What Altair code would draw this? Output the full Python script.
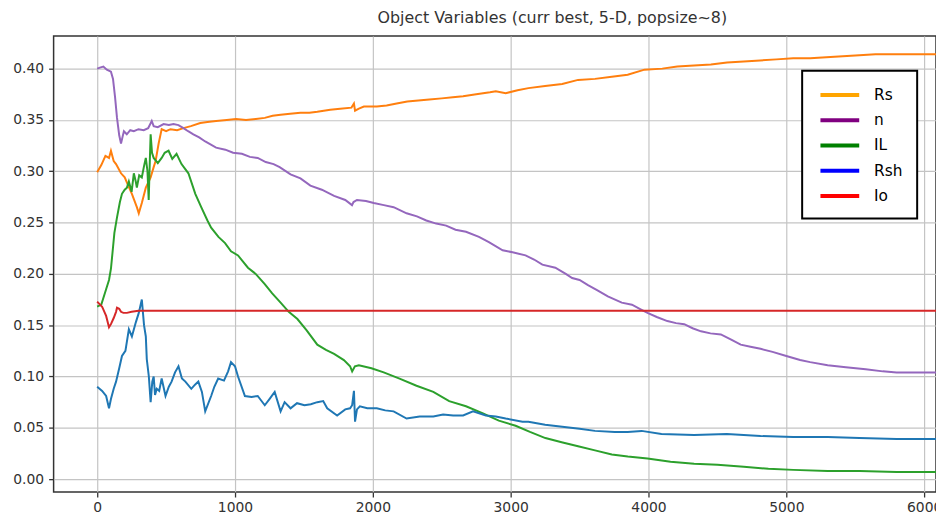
import altair as alt
import pandas as pd

names = ["Rs", "n", "IL", "Rsh", "Io"]
line_colors = ["#ff7f0e", "#9467bd", "#2ca02c", "#1f77b4", "#d62728"]
legend_colors = ["#ffa500", "#800080", "#008000", "#0000ff", "#ff0000"]

rs_x = [0, 30, 60, 86, 100, 120, 137, 173, 200, 216, 252, 288, 302, 324, 353, 388, 410, 424, 446, 468, 500, 532, 580, 626, 680, 748, 800, 863, 940, 1007, 1080, 1151, 1216, 1273, 1331, 1400, 1475, 1540, 1597, 1691, 1763, 1845, 1863, 1871, 1899, 1935, 2029, 2100, 2173, 2250, 2330, 2410, 2500, 2580, 2655, 2750, 2850, 2892, 2964, 3050, 3129, 3250, 3374, 3489, 3612, 3734, 3849, 3971, 4100, 4209, 4330, 4453, 4570, 4691, 4810, 4928, 5050, 5173, 5290, 5410, 5530, 5647, 5800, 5950, 6100]
rs_y = [0.299, 0.306, 0.315, 0.313, 0.320, 0.310, 0.307, 0.298, 0.294, 0.289, 0.278, 0.265, 0.259, 0.269, 0.284, 0.294, 0.304, 0.310, 0.327, 0.341, 0.339, 0.341, 0.340, 0.342, 0.344, 0.347, 0.348, 0.349, 0.350, 0.351, 0.350, 0.351, 0.352, 0.354, 0.355, 0.356, 0.357, 0.357, 0.358, 0.360, 0.361, 0.362, 0.366, 0.359, 0.361, 0.363, 0.363, 0.364, 0.366, 0.368, 0.369, 0.370, 0.371, 0.372, 0.373, 0.375, 0.377, 0.378, 0.376, 0.379, 0.381, 0.383, 0.385, 0.389, 0.390, 0.392, 0.394, 0.399, 0.400, 0.402, 0.403, 0.404, 0.406, 0.407, 0.408, 0.409, 0.410, 0.410, 0.411, 0.412, 0.413, 0.414, 0.414, 0.414, 0.414]

n_x = [0, 20, 45, 70, 100, 115, 130, 144, 160, 173, 185, 194, 215, 240, 266, 300, 338, 370, 396, 410, 440, 482, 520, 554, 590, 626, 660, 698, 740, 784, 863, 930, 986, 1050, 1108, 1165, 1223, 1280, 1324, 1403, 1475, 1547, 1630, 1719, 1800, 1849, 1860, 1885, 1950, 2007, 2080, 2151, 2245, 2320, 2388, 2460, 2532, 2600, 2676, 2770, 2842, 2942, 3014, 3108, 3170, 3230, 3324, 3400, 3446, 3500, 3561, 3630, 3705, 3806, 3880, 3950, 3993, 4060, 4137, 4200, 4259, 4320, 4381, 4450, 4525, 4600, 4669, 4740, 4813, 4900, 5000, 5100, 5173, 5300, 5432, 5576, 5700, 5800, 5950, 6100]
n_y = [0.400, 0.401, 0.402, 0.399, 0.397, 0.390, 0.372, 0.352, 0.335, 0.327, 0.334, 0.339, 0.336, 0.340, 0.339, 0.341, 0.340, 0.342, 0.349, 0.344, 0.343, 0.346, 0.345, 0.346, 0.345, 0.342, 0.339, 0.336, 0.333, 0.329, 0.323, 0.321, 0.318, 0.317, 0.314, 0.313, 0.309, 0.307, 0.304, 0.297, 0.293, 0.286, 0.282, 0.276, 0.272, 0.267, 0.270, 0.272, 0.271, 0.269, 0.267, 0.265, 0.259, 0.256, 0.252, 0.249, 0.247, 0.243, 0.241, 0.236, 0.231, 0.223, 0.221, 0.218, 0.214, 0.209, 0.206, 0.200, 0.196, 0.194, 0.189, 0.184, 0.178, 0.172, 0.170, 0.165, 0.162, 0.158, 0.154, 0.152, 0.151, 0.147, 0.144, 0.142, 0.141, 0.136, 0.131, 0.129, 0.127, 0.124, 0.120, 0.116, 0.114, 0.111, 0.109, 0.107, 0.105, 0.104, 0.104, 0.104]

il_x = [0, 30, 65, 86, 100, 108, 125, 144, 165, 180, 200, 216, 230, 250, 266, 280, 288, 305, 324, 340, 353, 365, 374, 382, 388, 398, 410, 440, 468, 490, 518, 545, 576, 612, 662, 712, 755, 800, 827, 880, 928, 971, 1022, 1094, 1150, 1216, 1270, 1331, 1390, 1453, 1520, 1597, 1660, 1719, 1790, 1835, 1850, 1870, 1899, 1990, 2079, 2194, 2317, 2439, 2554, 2676, 2799, 2914, 3036, 3140, 3252, 3370, 3489, 3612, 3734, 3850, 3993, 4160, 4331, 4500, 4691, 4870, 5050, 5300, 5532, 5800, 6100]
il_y = [0.168, 0.170, 0.185, 0.194, 0.205, 0.216, 0.240, 0.255, 0.270, 0.278, 0.282, 0.284, 0.290, 0.280, 0.298, 0.290, 0.284, 0.296, 0.294, 0.305, 0.313, 0.300, 0.272, 0.310, 0.336, 0.318, 0.313, 0.308, 0.313, 0.318, 0.320, 0.312, 0.317, 0.307, 0.298, 0.278, 0.265, 0.252, 0.245, 0.236, 0.230, 0.222, 0.218, 0.206, 0.200, 0.190, 0.181, 0.172, 0.163, 0.156, 0.145, 0.131, 0.126, 0.122, 0.116, 0.110, 0.105, 0.110, 0.111, 0.108, 0.104, 0.098, 0.091, 0.085, 0.076, 0.071, 0.064, 0.057, 0.052, 0.046, 0.040, 0.036, 0.032, 0.028, 0.024, 0.022, 0.020, 0.017, 0.015, 0.014, 0.012, 0.010, 0.009, 0.008, 0.008, 0.007, 0.007]

rsh_x = [0, 36, 65, 86, 100, 120, 137, 160, 180, 205, 230, 252, 281, 302, 324, 340, 353, 360, 375, 388, 400, 410, 420, 432, 450, 468, 496, 520, 540, 565, 590, 615, 640, 683, 710, 734, 760, 784, 827, 850, 878, 920, 950, 971, 1000, 1022, 1072, 1120, 1165, 1216, 1250, 1288, 1331, 1360, 1403, 1450, 1504, 1550, 1597, 1640, 1669, 1741, 1800, 1835, 1850, 1863, 1871, 1885, 1906, 1960, 2029, 2090, 2151, 2245, 2340, 2439, 2510, 2583, 2655, 2727, 2820, 2892, 2964, 3086, 3129, 3250, 3374, 3500, 3612, 3755, 3849, 3950, 4094, 4331, 4568, 4813, 5050, 5300, 5532, 5800, 6100]
rsh_y = [0.090, 0.086, 0.081, 0.069, 0.078, 0.088, 0.095, 0.108, 0.120, 0.125, 0.146, 0.139, 0.153, 0.162, 0.175, 0.150, 0.139, 0.117, 0.100, 0.075, 0.095, 0.100, 0.082, 0.088, 0.086, 0.098, 0.081, 0.090, 0.095, 0.104, 0.110, 0.098, 0.095, 0.088, 0.092, 0.095, 0.085, 0.066, 0.081, 0.090, 0.098, 0.096, 0.105, 0.114, 0.110, 0.100, 0.081, 0.080, 0.081, 0.072, 0.078, 0.085, 0.066, 0.075, 0.069, 0.074, 0.072, 0.073, 0.075, 0.076, 0.069, 0.062, 0.068, 0.069, 0.072, 0.086, 0.056, 0.068, 0.071, 0.069, 0.069, 0.067, 0.066, 0.059, 0.061, 0.061, 0.063, 0.062, 0.062, 0.066, 0.062, 0.061, 0.059, 0.056, 0.056, 0.053, 0.051, 0.049, 0.047, 0.046, 0.046, 0.047, 0.044, 0.043, 0.044, 0.042, 0.041, 0.041, 0.040, 0.039, 0.039]

io_x = [0, 36, 65, 86, 100, 120, 137, 144, 160, 173, 190, 216, 250, 300, 400, 500, 1000, 2000, 3000, 4000, 5000, 6100]
io_y = [0.173, 0.168, 0.159, 0.148, 0.151, 0.157, 0.163, 0.167, 0.166, 0.163, 0.162, 0.162, 0.163, 0.164, 0.164, 0.164, 0.164, 0.164, 0.164, 0.164, 0.164, 0.164]

x_ticks = [0, 1000, 2000, 3000, 4000, 5000, 6000]
y_ticks = [0.00, 0.05, 0.10, 0.15, 0.20, 0.25, 0.30, 0.35, 0.40]

series = [(names[0], rs_x, rs_y), (names[1], n_x, n_y), (names[2], il_x, il_y),
          (names[3], rsh_x, rsh_y), (names[4], io_x, io_y)]
rows = []
for k, (nm, xs, ys) in enumerate(series):
    for i, (a, b) in enumerate(zip(xs, ys)):
        rows.append({"series": nm, "it": a, "val": b, "ord": k * 1000 + i})
df = pd.DataFrame(rows)

FONT = "DejaVu Sans"

x_enc = alt.X("it:Q", scale=alt.Scale(domain=[-316, 6086], nice=False, zero=False),
              axis=alt.Axis(values=x_ticks, format="d", title=None, labelFontSize=14,
                            labelFont=FONT, labelColor="#333", tickSize=5, tickColor="#333",
                            tickWidth=1.3, domain=False, grid=True, gridColor="#c4c4c4",
                            gridWidth=1.2, labelPadding=4, labelFlush=False))
y_enc = alt.Y("val:Q", scale=alt.Scale(domain=[-0.0126, 0.4318], nice=False, zero=False),
              axis=alt.Axis(values=y_ticks, format=".2f", title=None, labelFontSize=14,
                            labelFont=FONT, labelColor="#333", tickSize=5, tickColor="#333",
                            tickWidth=1.3, domain=False, grid=True, gridColor="#c4c4c4",
                            gridWidth=1.2, labelPadding=5))

lines = alt.Chart(df).mark_line(strokeWidth=2, clip=True).encode(
    x=x_enc, y=y_enc,
    color=alt.Color("series:N", scale=alt.Scale(domain=names, range=line_colors), legend=None),
    order="ord:Q",
)

legend_layer = alt.Chart(df).transform_filter("false").mark_line().encode(
    x="it:Q", y="val:Q",
    color=alt.Color("series:N", scale=alt.Scale(domain=names, range=legend_colors),
                    legend=alt.Legend(title=None, orient="none", legendX=755, legendY=35,
                                      direction="vertical", fillColor="white",
                                      strokeColor="black", padding=14,
                                      symbolType="M-2.3,0H2.3", symbolSize=289,
                                      symbolStrokeWidth=4, symbolOffset=13.5,
                                      labelOffset=24, labelFontSize=15.5, labelFont=FONT,
                                      labelColor="black", rowPadding=6.5)),
)

chart = alt.layer(lines, legend_layer).resolve_scale(color="independent").properties(
    width=890, height=460,
    title=alt.TitleParams("Object Variables (curr best, 5-D, popsize~8)", anchor="middle",
                          dx=58, fontSize=16, fontWeight="normal", font=FONT,
                          color="#333", offset=10),
    autosize=alt.AutoSizeParams(type="none"),
    padding={"left": 46, "top": 26, "right": 0, "bottom": 30},
).configure_view(stroke="#333", strokeWidth=1.5).configure_legend(strokeWidth=2)

chart.save("out.html", embed_options={"renderer": "svg", "actions": False})
